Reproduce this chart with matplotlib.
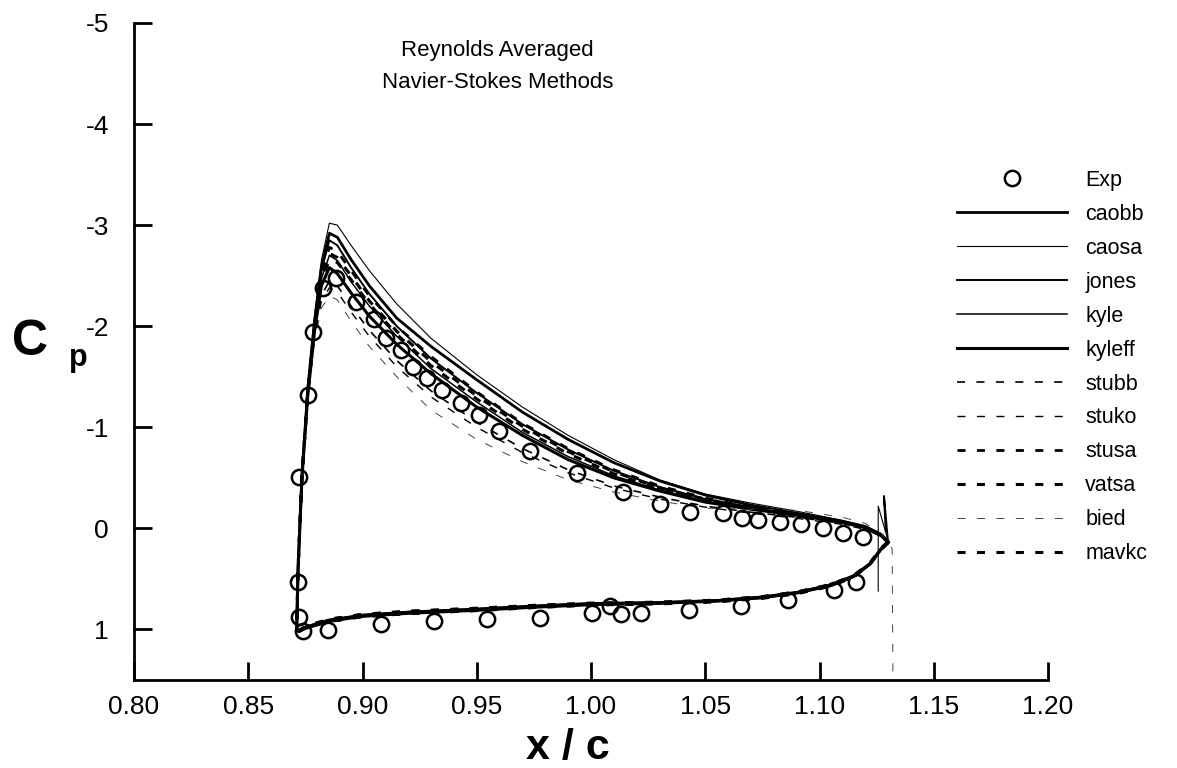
import matplotlib
matplotlib.use('Agg')
import matplotlib.pyplot as plt

plt.rcParams['font.family'] = ['Liberation Sans', 'DejaVu Sans']
plt.rcParams['axes.unicode_minus'] = False
plt.rcParams['lines.scale_dashes'] = False

# ---------------- data ----------------
# experimental points
exp_x_upper = [0.8717, 0.8721, 0.8760, 0.8782, 0.8826, 0.8884, 0.8970, 0.9051, 0.9102, 0.9168,
               0.9219, 0.9284, 0.9350, 0.9430, 0.9510, 0.9597, 0.9735, 0.9939, 1.0142, 1.0302,
               1.0433, 1.0578, 1.0660, 1.0731, 1.0826, 1.0920, 1.1015, 1.1105, 1.1192]
exp_cp_upper = [0.53, -0.51, -1.32, -1.94, -2.38, -2.48, -2.24, -2.07, -1.88, -1.76,
                -1.60, -1.49, -1.37, -1.24, -1.12, -0.96, -0.77, -0.55, -0.36, -0.24,
                -0.16, -0.15, -0.10, -0.08, -0.06, -0.04, 0.00, 0.05, 0.09]
exp_x_lower = [0.8721, 0.8739, 0.8847, 0.9080, 0.9315, 0.9545, 0.9775, 1.0003, 1.0085, 1.0130,
               1.0220, 1.0430, 1.0656, 1.0862, 1.1063, 1.1160]
exp_cp_lower = [0.88, 1.02, 1.01, 0.95, 0.92, 0.90, 0.89, 0.84, 0.77, 0.85,
                0.84, 0.81, 0.77, 0.71, 0.61, 0.53]

# computed upper-surface stations
x_upper = [0.8712, 0.8718, 0.8735, 0.876, 0.879, 0.882, 0.8855, 0.889, 0.895, 0.903, 0.915, 0.93,
           0.95, 0.97, 0.99, 1.01, 1.03, 1.05, 1.07, 1.09, 1.11, 1.12, 1.127, 1.130]
# computed lower-surface stations
x_lower = [0.8712, 0.8722, 0.875, 0.885, 0.90, 0.92, 0.95, 0.975, 1.00, 1.03, 1.055, 1.075,
           1.09, 1.105, 1.115, 1.122, 1.127, 1.130]

caobb_up = [1.00, 0.40, -0.52, -1.37, -2.05, -2.58, -2.92, -2.88, -2.66, -2.40, -2.08, -1.80,
            -1.47, -1.15, -0.88, -0.65, -0.47, -0.33, -0.23, -0.15, -0.07, -0.02, 0.06, 0.13]
caosa_up = [1.00, 0.40, -0.55, -1.40, -2.10, -2.65, -3.02, -3.00, -2.80, -2.55, -2.22, -1.88,
            -1.52, -1.20, -0.92, -0.68, -0.48, -0.34, -0.25, -0.17, -0.08, -0.02, 0.05, 0.12]
jones_up = [1.00, 0.40, -0.52, -1.36, -2.04, -2.55, -2.85, -2.80, -2.58, -2.32, -2.00, -1.68,
            -1.34, -1.03, -0.78, -0.57, -0.41, -0.29, -0.21, -0.14, -0.06, -0.01, 0.07, 0.14]
kyle_up = [1.00, 0.40, -0.51, -1.33, -2.00, -2.47, -2.70, -2.65, -2.44, -2.20, -1.90, -1.58,
           -1.25, -0.95, -0.71, -0.52, -0.38, -0.27, -0.19, -0.13, -0.06, -0.01, 0.07, 0.14]
kyleff_up = [1.00, 0.40, -0.50, -1.30, -1.95, -2.40, -2.58, -2.52, -2.33, -2.10, -1.82, -1.53,
             -1.20, -0.92, -0.68, -0.50, -0.37, -0.26, -0.19, -0.13, -0.06, -0.01, 0.07, 0.14]
stubb_up = [1.00, 0.40, -0.50, -1.30, -1.92, -2.30, -2.45, -2.40, -2.20, -1.96, -1.66, -1.36,
            -1.05, -0.79, -0.58, -0.42, -0.31, -0.22, -0.16, -0.11, -0.05, 0.00, 0.07, 0.14]
stuko_up = [1.00, 0.40, -0.50, -1.28, -1.88, -2.25, -2.38, -2.34, -2.14, -1.90, -1.60, -1.30,
            -1.00, -0.75, -0.55, -0.40, -0.29, -0.21, -0.15, -0.10, -0.04, 0.01, 0.08, 0.15]
stusa_up = [1.00, 0.40, -0.52, -1.35, -2.02, -2.52, -2.78, -2.74, -2.55, -2.30, -2.00, -1.70,
            -1.35, -1.04, -0.79, -0.58, -0.42, -0.30, -0.21, -0.14, -0.06, -0.01, 0.07, 0.14]
vatsa_up = [1.00, 0.40, -0.51, -1.33, -2.00, -2.48, -2.72, -2.68, -2.50, -2.25, -1.95, -1.65,
            -1.31, -1.01, -0.76, -0.56, -0.40, -0.29, -0.20, -0.14, -0.06, -0.01, 0.07, 0.14]
bied_up = [1.00, 0.40, -0.48, -1.25, -1.85, -2.18, -2.30, -2.26, -2.05, -1.80, -1.50, -1.17,
           -0.88, -0.66, -0.48, -0.36, -0.27, -0.20, -0.19, -0.18, -0.11, -0.05, 0.05, 0.15]
mavkc_up = [1.00, 0.40, -0.50, -1.32, -1.98, -2.45, -2.66, -2.63, -2.46, -2.22, -1.92, -1.61,
            -1.28, -0.98, -0.74, -0.54, -0.39, -0.28, -0.20, -0.13, -0.06, -0.01, 0.07, 0.14]

caobb_lo = [1.00, 1.02, 0.98, 0.91, 0.86, 0.83, 0.80, 0.77, 0.745, 0.735, 0.715, 0.68, 0.635, 0.56, 0.47, 0.35, 0.20, 0.13]
caosa_lo = [1.00, 1.01, 0.97, 0.90, 0.85, 0.82, 0.79, 0.76, 0.735, 0.725, 0.705, 0.67, 0.625, 0.55, 0.46, 0.34, 0.19, 0.12]
jones_lo = [1.00, 1.02, 0.98, 0.92, 0.87, 0.84, 0.81, 0.78, 0.755, 0.745, 0.72, 0.69, 0.64, 0.57, 0.48, 0.36, 0.21, 0.14]
kyle_lo = [1.00, 1.01, 0.97, 0.91, 0.86, 0.83, 0.80, 0.77, 0.75, 0.735, 0.715, 0.68, 0.635, 0.56, 0.47, 0.35, 0.20, 0.14]
kyleff_lo = [1.00, 1.02, 0.99, 0.92, 0.87, 0.84, 0.81, 0.78, 0.755, 0.74, 0.72, 0.685, 0.64, 0.565, 0.475, 0.355, 0.205, 0.14]
stubb_lo = [1.00, 1.02, 0.99, 0.93, 0.88, 0.85, 0.82, 0.79, 0.765, 0.75, 0.73, 0.695, 0.65, 0.575, 0.485, 0.365, 0.215, 0.15]
stuko_lo = [1.00, 1.02, 0.99, 0.93, 0.88, 0.85, 0.82, 0.79, 0.765, 0.755, 0.735, 0.70, 0.655, 0.58, 0.49, 0.37, 0.22, 0.15]
stusa_lo = [1.00, 1.01, 0.97, 0.90, 0.85, 0.82, 0.79, 0.76, 0.74, 0.73, 0.71, 0.675, 0.63, 0.555, 0.465, 0.345, 0.195, 0.13]
vatsa_lo = [1.00, 1.01, 0.97, 0.90, 0.85, 0.82, 0.79, 0.765, 0.74, 0.73, 0.71, 0.675, 0.63, 0.555, 0.465, 0.345, 0.195, 0.13]
bied_lo = [1.00, 1.02, 0.99, 0.92, 0.87, 0.84, 0.81, 0.78, 0.755, 0.745, 0.725, 0.69, 0.645, 0.57, 0.48, 0.36, 0.21, 0.15]
mavkc_lo = [1.00, 1.02, 0.98, 0.91, 0.86, 0.83, 0.80, 0.775, 0.75, 0.74, 0.72, 0.685, 0.64, 0.565, 0.475, 0.355, 0.205, 0.14]

# trailing-edge excursions
caosa_te_x = [1.1257, 1.1257]
caosa_te_cp = [-0.22, 0.62]
jones_te_x = [1.1282, 1.1290]
jones_te_cp = [-0.32, 0.02]
bied_te_x = [1.1318, 1.1322]
bied_te_cp = [0.20, 1.70]

models = ['caobb', 'caosa', 'jones', 'kyle', 'kyleff', 'stubb', 'stuko', 'stusa', 'vatsa', 'bied', 'mavkc']
uppers = [caobb_up, caosa_up, jones_up, kyle_up, kyleff_up, stubb_up, stuko_up, stusa_up, vatsa_up, bied_up, mavkc_up]
lowers = [caobb_lo, caosa_lo, jones_lo, kyle_lo, kyleff_lo, stubb_lo, stuko_lo, stusa_lo, vatsa_lo, bied_lo, mavkc_lo]
te_extra = {'caosa': (caosa_te_x, caosa_te_cp), 'jones': (jones_te_x, jones_te_cp), 'bied': (bied_te_x, bied_te_cp)}

x_ticks = [0.80, 0.85, 0.90, 0.95, 1.00, 1.05, 1.10, 1.15, 1.20]
y_ticks = [-5, -4, -3, -2, -1, 0, 1]

# ---------------- styles ----------------
DASH = (0, (5.8, 8.2))
styles = {
    'caobb': dict(ls='-', lw=2.0, color='black'),
    'caosa': dict(ls='-', lw=0.8, color='black'),
    'jones': dict(ls='-', lw=1.4, color='black'),
    'kyle': dict(ls='-', lw=1.1, color='black'),
    'kyleff': dict(ls='-', lw=2.2, color='black'),
    'stubb': dict(ls=DASH, lw=1.2, color='black'),
    'stuko': dict(ls=DASH, lw=1.0, color='black'),
    'stusa': dict(ls=DASH, lw=2.0, color='black'),
    'vatsa': dict(ls=DASH, lw=2.2, color='black'),
    'bied': dict(ls=DASH, lw=0.7, color='#444444'),
    'mavkc': dict(ls=DASH, lw=2.2, color='black'),
}

W, H = 1177, 768
fig = plt.figure(figsize=(W / 100, H / 100), dpi=100)
ax = fig.add_axes([134 / W, 1 - 680 / H, (1048 - 134) / W, (680 - 23) / H])

handles = []
exp_line, = ax.plot(exp_x_upper + exp_x_lower, exp_cp_upper + exp_cp_lower, ls='none', marker='o',
                    ms=11, mfc='none', mec='black', mew=1.8, label='Exp', zorder=5)
handles.append(exp_line)

for name, up, lo in zip(models, uppers, lowers):
    xs = x_lower[::-1] + x_upper[1:]
    ys = lo[::-1] + up[1:]
    if name in te_extra:
        xs = xs + te_extra[name][0]
        ys = ys + te_extra[name][1]
    ln, = ax.plot(xs, ys, label=name, solid_joinstyle='round', **styles[name])
    handles.append(ln)

ax.set_xlim(0.80, 1.20)
ax.set_ylim(1.5, -5)
ax.set_xticks(x_ticks)
ax.set_xticklabels([f'{v:.2f}' for v in x_ticks])
ax.set_yticks(y_ticks)
ax.set_yticklabels([str(v) for v in y_ticks])
for s in ['top', 'right']:
    ax.spines[s].set_visible(False)
for s in ['left', 'bottom']:
    ax.spines[s].set_linewidth(2.0)
ax.tick_params(axis='both', direction='in', length=13, width=2.0, labelsize=19)
ax.tick_params(axis='y', pad=18)
ax.tick_params(axis='x', pad=11)

ax.text(0.959, -4.57, 'Reynolds Averaged\nNavier-Stokes Methods', ha='center', va='center',
        fontsize=16, linespacing=1.7)

fig.text(30 / W, 1 - 342 / H, 'C', fontsize=36, fontweight='bold', ha='center', va='center')
fig.text(78 / W, 1 - 358 / H, 'p', fontsize=22, fontweight='bold', ha='center', va='center')
fig.text(568 / W, 1 - 759 / H, 'x / c', fontsize=31, fontweight='bold', ha='center', va='baseline')

leg = fig.legend(handles=handles, loc='upper left', bbox_to_anchor=(957 / W, 1 - 170 / H),
                 frameon=False, fontsize=15.5, handlelength=5.12, handletextpad=0.84,
                 labelspacing=0.60, borderpad=0, borderaxespad=0)

fig.savefig('out.png', dpi=100)
